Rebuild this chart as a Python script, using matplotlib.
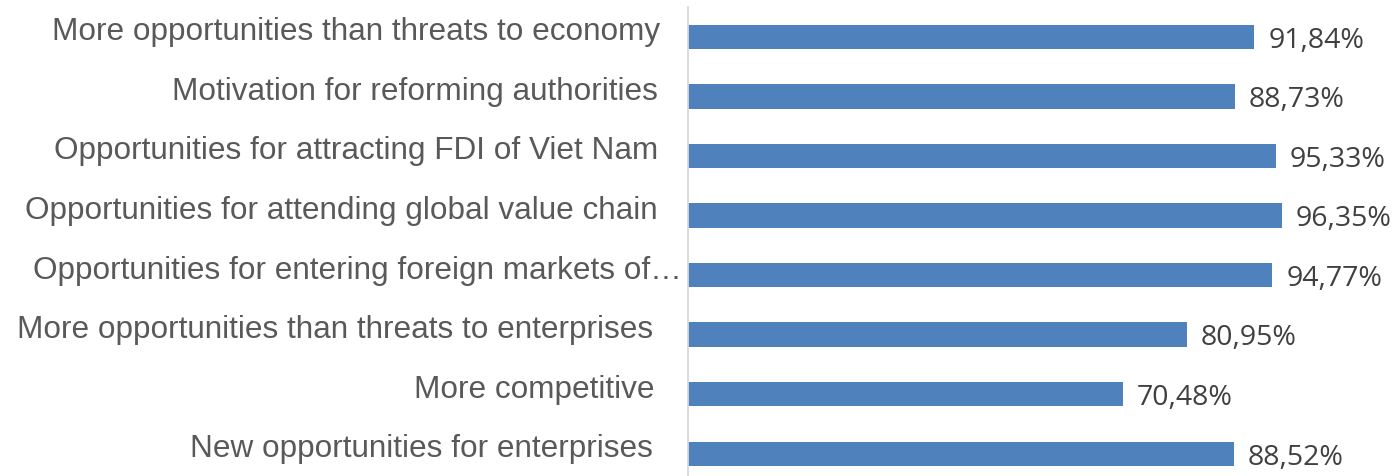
import matplotlib.pyplot as plt
import matplotlib.transforms as mtransforms

# categories, top to bottom as in the chart
labels = [
    "More opportunities than threats to economy",
    "Motivation for reforming authorities",
    "Opportunities for attracting FDI of Viet Nam",
    "Opportunities for attending global value chain",
    "Opportunities for entering foreign markets of\u2026",
    "More opportunities than threats to enterprises",
    "More competitive",
    "New opportunities for enterprises",
]
values = [91.84, 88.73, 95.33, 96.35, 94.77, 80.95, 70.48, 88.52]

fig = plt.figure(figsize=(13.99, 4.77), dpi=100)
ax = fig.add_axes([688 / 1399, 0, 1 - 688 / 1399, 1 - 8 / 477])

n = len(labels)
ypos = [n - 1 - i for i in range(n)]
bars = ax.barh(ypos, values, height=0.41, color="#4f81bd")

ax.set_xlim(0, 115.3)
ax.set_ylim(-0.373, n - 0.5)

ax.set_yticks(ypos)
ax.set_yticklabels(labels, fontsize=22.7, color="#595959", family="Liberation Sans")
ax.tick_params(axis="y", length=0, pad=21)
ax.set_xticks([])

# Excel puts the category text a bit above the bar centre,
# and the truncated one sits closer to the axis
xshift = [1, -1, -1, -1, 23, -6, -4, -6]
for t, dx in zip(ax.get_yticklabels(), xshift):
    shift = mtransforms.ScaledTranslation(dx / 100, 6.5 / 72, fig.dpi_scale_trans)
    t.set_transform(t.get_transform() + shift)

for s in ["top", "right", "bottom"]:
    ax.spines[s].set_visible(False)
ax.spines["left"].set_color("#d9d9d9")
ax.spines["left"].set_linewidth(1.3)

for b, v in zip(bars, values):
    ax.annotate(f"{v:.2f}%".replace(".", ","),
                (b.get_width(), b.get_y() + b.get_height() / 2),
                xytext=(10, -2), textcoords="offset points",
                ha="left", va="center", fontsize=20.5, color="#404040",
                family="Open Sans")

fig.savefig("out.png", dpi=100)
